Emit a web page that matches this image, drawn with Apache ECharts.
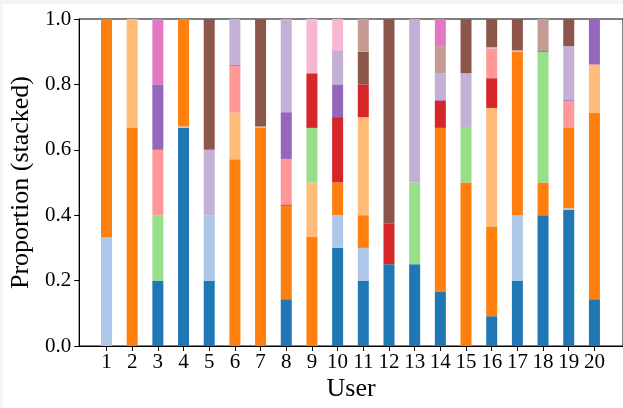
<!DOCTYPE html>
<html>
<head>
<meta charset="utf-8">
<script src="https://cdn.jsdelivr.net/npm/echarts@6/dist/echarts.min.js"></script>
<style>
  html, body { margin: 0; padding: 0; background: #f5f5f5; }
  #paper { position: absolute; left: 3px; top: 4px; right: 0; bottom: 0; background: #fff; }
  #main { position: absolute; left: 0; top: 0; width: 623px; height: 408px; }
</style>
</head>
<body>
<div id="paper"></div>
<div id="main"></div>
<script>
// users on the x axis
var users = ['1', '2', '3', '4', '5', '6', '7', '8', '9', '10',
             '11', '12', '13', '14', '15', '16', '17', '18', '19', '20'];
var yTicks = [0, 0.2, 0.4, 0.6, 0.8, 1.0];

// tab20 colours, one per stacked category
var colors = ['#1f77b4', '#aec7e8', '#ff7f0e', '#ffbb78', '#98df8a', '#d62728',
              '#ff9896', '#9467bd', '#c5b0d5', '#8c564b', '#c49c94', '#e377c2', '#f7b6d2'];

// proportions per category (stack order from bottom)
var cat0  = [0, 0, .2, .667, .2, 0, 0, .143, 0, .3, .2, .25, .25, .167, 0, .091, .2, .4, .417, .143];
var cat1  = [.333, 0, 0, .004, .2, 0, 0, 0, 0, .1, .1, 0, 0, 0, 0, 0, .2, 0, .004, 0];
var cat2  = [.667, .667, 0, .329, 0, .571, .667, .286, .333, .1, .1, 0, 0, .5, .5, .273, .5, .1, .246, .571];
var cat3  = [0, .333, 0, 0, 0, .143, 0, 0, .167, 0, .3, 0, 0, 0, 0, .364, 0, 0, 0, .143];
var cat5  = [0, 0, .2, 0, 0, 0, 0, 0, .167, 0, 0, 0, .25, 0, .167, 0, 0, .4, 0, 0];
var cat6  = [0, 0, 0, 0, 0, 0, 0, .004, .167, .2, .1, .125, 0, .083, 0, .091, 0, 0, 0, 0];
var cat7  = [0, 0, .2, 0, 0, .143, 0, .139, 0, 0, 0, 0, 0, 0, 0, .091, 0, 0, .083, .004];
var cat8  = [0, 0, .2, 0, 0, .004, 0, .143, 0, .1, 0, 0, 0, .004, 0, 0, 0, 0, .004, .139];
var cat9  = [0, 0, 0, 0, .2, .139, .004, .285, 0, .1, 0, 0, .5, .079, .167, .004, .004, 0, .163, 0];
var cat10 = [0, 0, 0, 0, .4, 0, .329, 0, 0, 0, .1, .625, 0, 0, .166, .086, .096, .004, .083, 0];
var cat11 = [0, 0, 0, 0, 0, 0, 0, 0, 0, 0, .1, 0, 0, .084, 0, 0, 0, .096, 0, 0];
var cat12 = [0, 0, .2, 0, 0, 0, 0, 0, 0, .004, 0, 0, 0, .083, 0, 0, 0, 0, 0, 0];
var cat13 = [0, 0, 0, 0, 0, 0, 0, 0, .166, .096, 0, 0, 0, 0, 0, 0, 0, 0, 0, 0];

var cats = [cat0, cat1, cat2, cat3, cat5, cat6, cat7, cat8, cat9, cat10, cat11, cat12, cat13];

var font = 'Liberation Serif';

// bars live in grid 1 (category axis), frame + y axis in grid 0
var series = cats.map(function(vals, i) {
    return {
        type: 'bar',
        stack: 'all',
        barWidth: 11,
        xAxisIndex: 1,
        yAxisIndex: 1,
        itemStyle: { color: colors[i] },
        data: vals
    };
});

var myChart = echarts.init(document.getElementById('main'));

var option = {
    backgroundColor: 'transparent',
    animation: false,
    grid: [{
        left: 77, top: 19, width: 547, height: 327,
        show: true, borderColor: '#000', borderWidth: 1, backgroundColor: 'transparent'
    }, {
        left: 93.66, top: 19, width: 513.6, height: 327
    }],
    xAxis: [{
        gridIndex: 0,
        type: 'value',
        min: 0,
        max: 1,
        name: 'User',
        nameLocation: 'middle',
        nameGap: 30,
        nameTextStyle: { fontFamily: font, fontSize: 26, color: '#000' },
        axisLine: { lineStyle: { color: '#000', width: 1 } },
        axisTick: { show: false },
        axisLabel: { show: false },
        splitLine: { show: false }
    }, {
        gridIndex: 1,
        type: 'category',
        data: users,
        axisLine: { show: false },
        axisTick: { show: true, interval: 0, length: 5, alignWithLabel: true, lineStyle: { color: '#000' } },
        axisLabel: { interval: 0, margin: 6, fontFamily: font, fontSize: 21, color: '#000' },
        splitLine: { show: false }
    }],
    yAxis: [{
        gridIndex: 0,
        type: 'value',
        min: 0,
        max: 1,
        name: 'Proportion (stacked)',
        nameLocation: 'middle',
        nameGap: 38,
        nameTextStyle: { fontFamily: font, fontSize: 26, color: '#000' },
        axisLine: { show: true, lineStyle: { color: '#000', width: 1 } },
        axisTick: { show: true, length: 5, customValues: yTicks, lineStyle: { color: '#000' } },
        axisLabel: {
            customValues: yTicks, margin: 8, fontFamily: font, fontSize: 21, color: '#000',
            formatter: function(v) { return v.toFixed(1); }
        },
        splitLine: { show: false }
    }, {
        gridIndex: 1,
        type: 'value',
        min: 0,
        max: 1,
        show: false
    }],
    series: series
};

myChart.setOption(option);
</script>
</body>
</html>
